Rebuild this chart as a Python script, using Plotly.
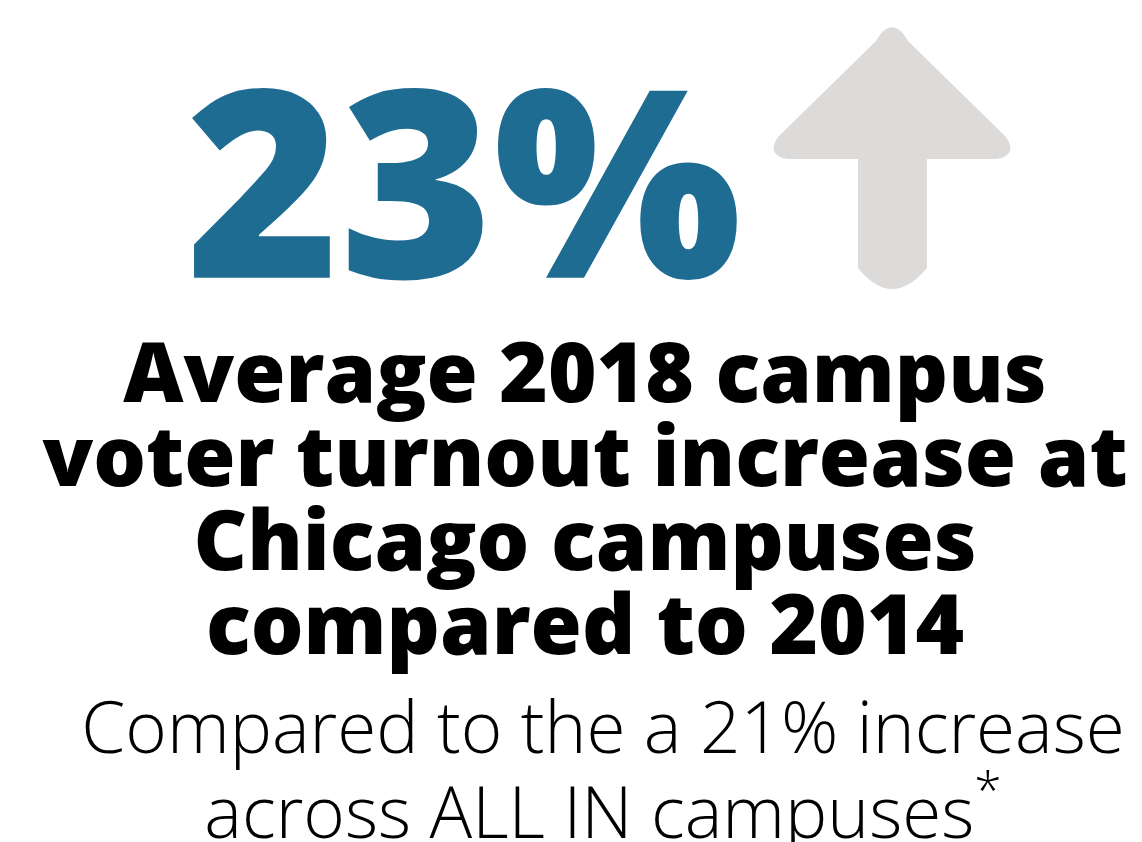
"""
Campus voter turnout infographic
"""

import plotly.graph_objects as go

# data
chicago_increase = 23          # % increase at Chicago campuses (2018 vs 2014)
all_in_increase = 21           # % increase across ALL IN campuses
years = [2014, 2018]

headline_lines = [
    f"Average {years[1]} campus",
    "voter turnout increase at",
    "Chicago campuses",
    f"compared to {years[0]}",
]
note_lines = [
    f"Compared to the a {all_in_increase}% increase",
    "across ALL IN campuses<sup>*</sup>",
]

W, H = 1142, 842
PAGE_OFFSET = 8                # default body margin of the html page
BLUE = '#1F6C93'
GREY = '#DCDBDA'
FONT = 'Open Sans'

# plotly puts the baseline of 'middle' text about 0.243 * size below y
SHIFT = 0.243
BIG_SIZE, BOLD_SIZE, LIGHT_SIZE = 262, 83, 71
big_baseline = 276
bold_baselines = [401 + 84 * i for i in range(len(headline_lines))]
light_baselines = [752 + 85 * i for i in range(len(note_lines))]

fig = go.Figure()

# big number
fig.add_trace(
    go.Scatter(
        x=[464], y=[big_baseline - SHIFT * BIG_SIZE],
        mode='text',
        text=[f"{chicago_increase}%"],
        textposition='middle center',
        textfont=dict(family=FONT, size=BIG_SIZE, color=BLUE, weight=800),
        hoverinfo='skip', showlegend=False
    )
)

# bold headline
fig.add_trace(
    go.Scatter(
        x=[585] * len(headline_lines),
        y=[b - SHIFT * BOLD_SIZE for b in bold_baselines],
        mode='text',
        text=headline_lines,
        textposition='middle center',
        textfont=dict(family=FONT, size=BOLD_SIZE, color='black', weight=800),
        hoverinfo='skip', showlegend=False
    )
)

# light note
fig.add_trace(
    go.Scatter(
        x=[603] * len(note_lines),
        y=[b - SHIFT * LIGHT_SIZE for b in light_baselines],
        mode='text',
        text=note_lines,
        textposition='middle center',
        textfont=dict(family=FONT, size=LIGHT_SIZE, color='black', weight=300),
        hoverinfo='skip', showlegend=False
    )
)

# up arrow
arrow = ("M 876,41 Q 892,13 908,41 L 1006,137 Q 1018,155 997,159 "
         "L 927,159 L 927,268 Q 892,310 858,268 L 858,159 "
         "L 787,159 Q 766,155 778,137 Z")
fig.add_shape(type='path', path=arrow, xref='x', yref='y',
              fillcolor=GREY, line=dict(width=0), layer='below')

# axis ranges shifted so that data units equal page pixels
fig.update_layout(
    width=W, height=H,
    margin=dict(l=0, r=0, t=0, b=0),
    paper_bgcolor='white',
    plot_bgcolor='white',
    xaxis=dict(range=[PAGE_OFFSET, W + PAGE_OFFSET], visible=False, fixedrange=True),
    yaxis=dict(range=[H + PAGE_OFFSET, PAGE_OFFSET], visible=False, fixedrange=True),
)

fig.write_html("out.html")
